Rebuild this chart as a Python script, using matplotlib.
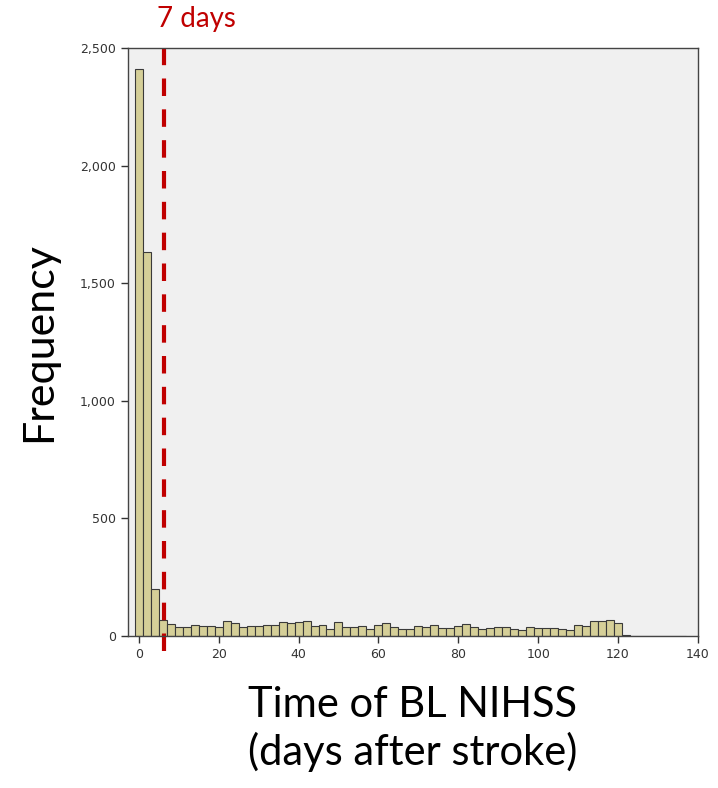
import matplotlib.pyplot as plt
import matplotlib.ticker as mticker
import numpy as np

# bin centres (days after stroke), 2-day bins
days = np.arange(0, 138, 2)
counts = [2411, 1633, 198, 69,
          51, 38, 38, 48, 41, 41, 38, 62, 55, 38, 41, 41, 47, 47, 61, 55,
          58, 62, 41, 48, 30, 61, 40, 40, 41, 30, 48, 55, 37, 30, 30, 44,
          37, 47, 32, 32, 44, 51, 37, 30, 32, 40, 40, 30, 25, 37, 34, 34,
          34, 30, 24, 48, 41, 62, 62, 68, 56,
          2, 1, 1, 1, 0, 0, 1, 0]

yticks = [0, 500, 1000, 1500, 2000, 2500]
xticks = [0, 20, 40, 60, 80, 100, 120, 140]
cutoff = 6.3  # position of the "7 days" marker

fig = plt.figure(figsize=(7.18, 7.88), dpi=100)
ax = fig.add_axes([0.178, 0.193, 0.794, 0.746])
ax.set_facecolor('#f0f0f0')

ax.bar(days, counts, width=2, color='#d5cf98', edgecolor='#3a3a3a', linewidth=0.8)

ax.axvline(cutoff, ymin=-0.025, ymax=1, color='#c00000', lw=3,
           dashes=(4.2, 3.2), clip_on=False)
fig.text(157 / 718, 1 - 6 / 788, '7 days', color='#c00000', fontsize=20,
         family='Lato', ha='left', va='top')

ax.set_xlim(-2.75, 140)
ax.set_ylim(0, 2500)
ax.set_xticks(xticks)
ax.set_yticks(yticks)
ax.yaxis.set_major_formatter(mticker.StrMethodFormatter('{x:,.0f}'))
ax.tick_params(direction='out', length=5, width=1, labelsize=9,
               labelcolor='#333333', color='#333333')
for s in ax.spines.values():
    s.set_color('#444444')
    s.set_linewidth(1)

ax.set_ylabel('Frequency', fontsize=31, family='Lato', labelpad=16)
ax.set_xlabel('Time of BL NIHSS\n(days after stroke)', fontsize=30,
              family='Lato', labelpad=18, linespacing=1.25)

plt.savefig('out.png', dpi=100)
